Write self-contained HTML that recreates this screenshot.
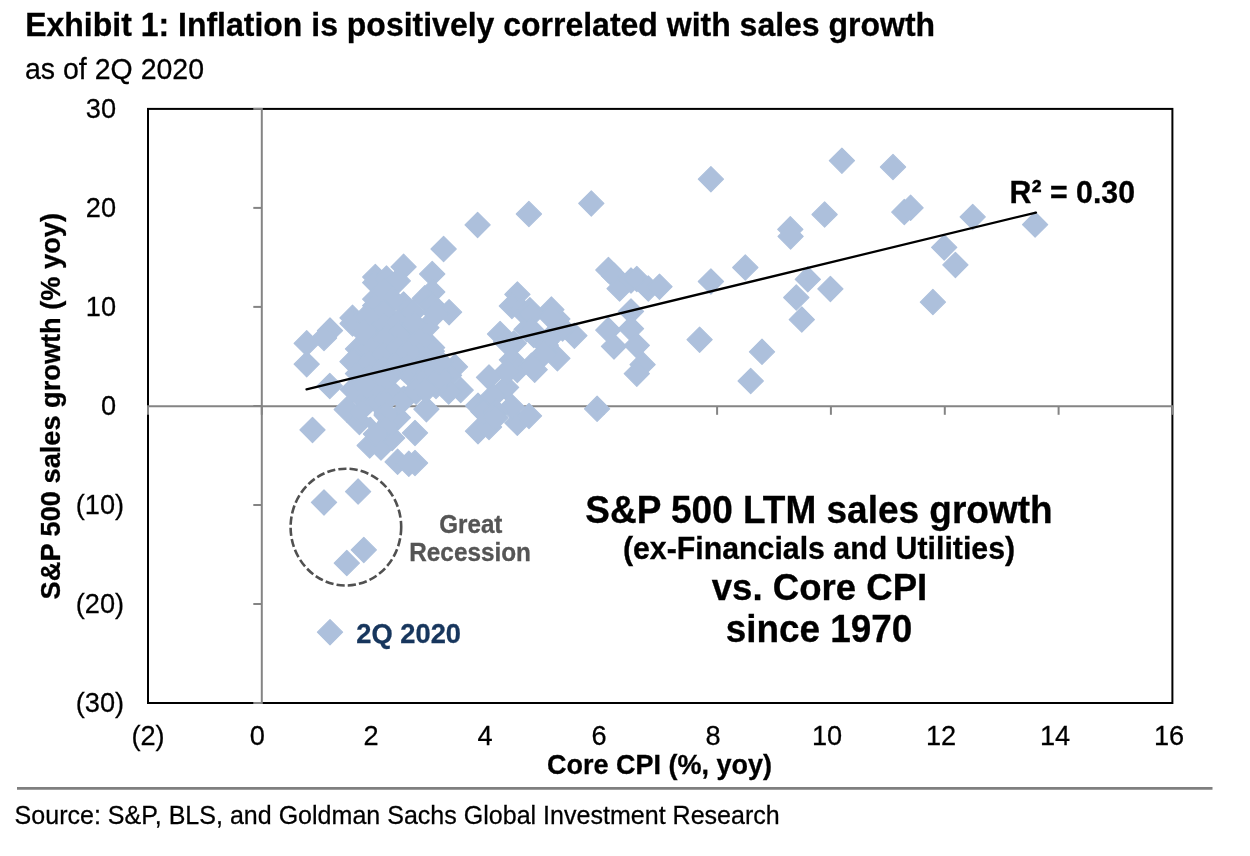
<!DOCTYPE html>
<html lang="en">
<head>
<meta charset="utf-8">
<title>Exhibit 1: Inflation is positively correlated with sales growth</title>
<style>
html,body{margin:0;padding:0;background:#fff;}
body{width:1250px;height:856px;overflow:hidden;position:relative;font-family:"Liberation Sans", Arial, Helvetica, sans-serif;}
svg{position:absolute;left:0;top:0;display:block;}
text{font-family:"Liberation Sans", Arial, Helvetica, sans-serif;}
.b{font-weight:bold;}
.d{fill:#adc0dc;stroke:#adc0dc;stroke-width:1.2;stroke-linejoin:round;}
</style>
</head>
<body>
<svg width="1250" height="856" viewBox="0 0 1250 856">
<rect x="0" y="0" width="1250" height="856" fill="#ffffff"/>
<text transform="translate(25.20 36.00) scale(1 1.035)" font-size="32" class="b" stroke="#000" stroke-width="0.3">Exhibit 1: Inflation is positively correlated with sales growth</text>
<g class="n">
<text transform="translate(25.00 78.80) scale(1 1.035)" font-size="28.5" stroke="#000" stroke-width="0.25">as of 2Q 2020</text>
</g>
<rect x="148.0" y="108.9" width="1024.4" height="594.1" fill="none" stroke="#000" stroke-width="2"/>
<g stroke="#848484" stroke-width="2" fill="none">
<line x1="261.8" y1="107.9" x2="261.8" y2="704.0"/>
<line x1="147.0" y1="406.3" x2="1173.4" y2="406.3"/>
<line x1="148.0" y1="406.3" x2="148.0" y2="414.8"/>
<line x1="261.8" y1="406.3" x2="261.8" y2="414.8"/>
<line x1="375.6" y1="406.3" x2="375.6" y2="414.8"/>
<line x1="489.5" y1="406.3" x2="489.5" y2="414.8"/>
<line x1="603.3" y1="406.3" x2="603.3" y2="414.8"/>
<line x1="717.1" y1="406.3" x2="717.1" y2="414.8"/>
<line x1="830.9" y1="406.3" x2="830.9" y2="414.8"/>
<line x1="944.8" y1="406.3" x2="944.8" y2="414.8"/>
<line x1="1058.6" y1="406.3" x2="1058.6" y2="414.8"/>
<line x1="1172.4" y1="406.3" x2="1172.4" y2="414.8"/>
<line x1="253.3" y1="703.0" x2="261.8" y2="703.0"/>
<line x1="253.3" y1="604.0" x2="261.8" y2="604.0"/>
<line x1="253.3" y1="505.0" x2="261.8" y2="505.0"/>
<line x1="253.3" y1="406.0" x2="261.8" y2="406.0"/>
<line x1="253.3" y1="306.9" x2="261.8" y2="306.9"/>
<line x1="253.3" y1="207.9" x2="261.8" y2="207.9"/>
<line x1="253.3" y1="108.9" x2="261.8" y2="108.9"/>
</g>
<g class="d">
<polygon points="841.9,148.1 854.5,160.7 841.9,173.3 829.3,160.7"/>
<polygon points="893.0,154.4 905.6,167.0 893.0,179.6 880.4,167.0"/>
<polygon points="824.6,201.9 837.2,214.5 824.6,227.1 812.0,214.5"/>
<polygon points="790.3,216.7 802.9,229.3 790.3,241.9 777.7,229.3"/>
<polygon points="790.6,223.8 803.2,236.4 790.6,249.0 778.0,236.4"/>
<polygon points="904.3,199.5 916.9,212.1 904.3,224.7 891.7,212.1"/>
<polygon points="910.6,195.2 923.2,207.8 910.6,220.4 898.0,207.8"/>
<polygon points="972.7,204.3 985.3,216.9 972.7,229.5 960.1,216.9"/>
<polygon points="1035.1,212.0 1047.7,224.6 1035.1,237.2 1022.5,224.6"/>
<polygon points="944.2,234.8 956.8,247.4 944.2,260.0 931.6,247.4"/>
<polygon points="955.4,252.3 968.0,264.9 955.4,277.5 942.8,264.9"/>
<polygon points="932.9,289.5 945.5,302.1 932.9,314.7 920.3,302.1"/>
<polygon points="807.8,266.7 820.4,279.3 807.8,291.9 795.2,279.3"/>
<polygon points="830.4,276.3 843.0,288.9 830.4,301.5 817.8,288.9"/>
<polygon points="796.3,284.9 808.9,297.5 796.3,310.1 783.7,297.5"/>
<polygon points="801.8,307.0 814.4,319.6 801.8,332.2 789.2,319.6"/>
<polygon points="710.9,166.6 723.5,179.2 710.9,191.8 698.3,179.2"/>
<polygon points="591.3,190.8 603.9,203.4 591.3,216.0 578.7,203.4"/>
<polygon points="745.3,254.9 757.9,267.5 745.3,280.1 732.7,267.5"/>
<polygon points="710.9,268.9 723.5,281.5 710.9,294.1 698.3,281.5"/>
<polygon points="608.4,257.4 621.0,270.0 608.4,282.6 595.8,270.0"/>
<polygon points="614.1,263.2 626.7,275.8 614.1,288.4 601.5,275.8"/>
<polygon points="619.6,276.0 632.2,288.6 619.6,301.2 607.0,288.6"/>
<polygon points="631.0,268.0 643.6,280.6 631.0,293.2 618.4,280.6"/>
<polygon points="636.8,266.4 649.4,279.0 636.8,291.6 624.2,279.0"/>
<polygon points="648.3,276.0 660.9,288.6 648.3,301.2 635.7,288.6"/>
<polygon points="659.5,274.1 672.1,286.7 659.5,299.3 646.9,286.7"/>
<polygon points="631.0,298.8 643.6,311.4 631.0,324.0 618.4,311.4"/>
<polygon points="699.6,327.1 712.2,339.7 699.6,352.3 687.0,339.7"/>
<polygon points="762.0,339.2 774.6,351.8 762.0,364.4 749.4,351.8"/>
<polygon points="750.7,368.4 763.3,381.0 750.7,393.6 738.1,381.0"/>
<polygon points="597.1,396.2 609.7,408.8 597.1,421.4 584.5,408.8"/>
<polygon points="608.3,317.5 620.9,330.1 608.3,342.7 595.7,330.1"/>
<polygon points="631.0,316.1 643.6,328.7 631.0,341.3 618.4,328.7"/>
<polygon points="614.0,333.8 626.6,346.4 614.0,359.0 601.4,346.4"/>
<polygon points="636.8,332.8 649.4,345.4 636.8,358.0 624.2,345.4"/>
<polygon points="642.6,352.0 655.2,364.6 642.6,377.2 630.0,364.6"/>
<polygon points="636.8,361.1 649.4,373.7 636.8,386.3 624.2,373.7"/>
<polygon points="574.4,323.1 587.0,335.7 574.4,348.3 561.8,335.7"/>
<polygon points="557.4,345.7 570.0,358.3 557.4,370.9 544.8,358.3"/>
<polygon points="557.3,306.4 569.9,319.0 557.3,331.6 544.7,319.0"/>
<polygon points="528.9,201.4 541.5,214.0 528.9,226.6 516.3,214.0"/>
<polygon points="477.6,212.3 490.2,224.9 477.6,237.5 465.0,224.9"/>
<polygon points="443.6,236.4 456.2,249.0 443.6,261.6 431.0,249.0"/>
<polygon points="432.2,261.4 444.8,274.0 432.2,286.6 419.6,274.0"/>
<polygon points="432.2,279.4 444.8,292.0 432.2,304.6 419.6,292.0"/>
<polygon points="517.4,281.8 530.0,294.4 517.4,307.0 504.8,294.4"/>
<polygon points="551.4,297.0 564.0,309.6 551.4,322.2 538.8,309.6"/>
<polygon points="449.1,299.6 461.7,312.2 449.1,324.8 436.5,312.2"/>
<polygon points="403.6,254.2 416.2,266.8 403.6,279.4 391.0,266.8"/>
<polygon points="375.3,264.4 387.9,277.0 375.3,289.6 362.7,277.0"/>
<polygon points="375.2,270.1 387.8,282.7 375.2,295.3 362.6,282.7"/>
<polygon points="386.5,266.0 399.1,278.6 386.5,291.2 373.9,278.6"/>
<polygon points="397.8,268.3 410.4,280.9 397.8,293.5 385.2,280.9"/>
<polygon points="375.2,286.6 387.8,299.2 375.2,311.8 362.6,299.2"/>
<polygon points="375.2,293.0 387.8,305.6 375.2,318.2 362.6,305.6"/>
<polygon points="352.5,305.2 365.1,317.8 352.5,330.4 339.9,317.8"/>
<polygon points="352.6,310.9 365.2,323.5 352.6,336.1 340.0,323.5"/>
<polygon points="426.4,315.1 439.0,327.7 426.4,340.3 413.8,327.7"/>
<polygon points="410.4,326.0 423.0,338.6 410.4,351.2 397.8,338.6"/>
<polygon points="330.0,318.0 342.6,330.6 330.0,343.2 317.4,330.6"/>
<polygon points="324.0,325.4 336.6,338.0 324.0,350.6 311.4,338.0"/>
<polygon points="403.6,291.8 416.2,304.4 403.6,317.0 391.0,304.4"/>
<polygon points="424.8,285.7 437.4,298.3 424.8,310.9 412.2,298.3"/>
<polygon points="432.2,292.4 444.8,305.0 432.2,317.6 419.6,305.0"/>
<polygon points="306.7,330.7 319.3,343.3 306.7,355.9 294.1,343.3"/>
<polygon points="306.7,351.6 319.3,364.2 306.7,376.8 294.1,364.2"/>
<polygon points="358.0,336.3 370.6,348.9 358.0,361.5 345.4,348.9"/>
<polygon points="352.5,349.0 365.1,361.6 352.5,374.2 339.9,361.6"/>
<polygon points="358.0,361.0 370.6,373.6 358.0,386.2 345.4,373.6"/>
<polygon points="329.8,373.4 342.4,386.0 329.8,398.6 317.2,386.0"/>
<polygon points="312.5,417.3 325.1,429.9 312.5,442.5 299.9,429.9"/>
<polygon points="346.8,396.9 359.4,409.5 346.8,422.1 334.2,409.5"/>
<polygon points="359.4,409.4 372.0,422.0 359.4,434.6 346.8,422.0"/>
<polygon points="369.7,432.9 382.3,445.5 369.7,458.1 357.1,445.5"/>
<polygon points="381.0,434.9 393.6,447.5 381.0,460.1 368.4,447.5"/>
<polygon points="392.1,425.4 404.7,438.0 392.1,450.6 379.5,438.0"/>
<polygon points="415.0,420.3 427.6,432.9 415.0,445.5 402.4,432.9"/>
<polygon points="397.9,405.0 410.5,417.6 397.9,430.2 385.3,417.6"/>
<polygon points="426.4,396.6 439.0,409.2 426.4,421.8 413.8,409.2"/>
<polygon points="397.6,449.2 410.2,461.8 397.6,474.4 385.0,461.8"/>
<polygon points="415.0,450.4 427.6,463.0 415.0,475.6 402.4,463.0"/>
<polygon points="408.8,451.2 421.4,463.8 408.8,476.4 396.2,463.8"/>
<polygon points="432.1,335.0 444.7,347.6 432.1,360.2 419.5,347.6"/>
<polygon points="431.8,338.6 444.4,351.2 431.8,363.8 419.2,351.2"/>
<polygon points="455.0,354.2 467.6,366.8 455.0,379.4 442.4,366.8"/>
<polygon points="449.0,362.7 461.6,375.3 449.0,387.9 436.4,375.3"/>
<polygon points="511.9,293.4 524.5,306.0 511.9,318.6 499.3,306.0"/>
<polygon points="500.1,321.4 512.7,334.0 500.1,346.6 487.5,334.0"/>
<polygon points="513.7,330.8 526.3,343.4 513.7,356.0 501.1,343.4"/>
<polygon points="506.0,329.2 518.6,341.8 506.0,354.4 493.4,341.8"/>
<polygon points="511.9,347.2 524.5,359.8 511.9,372.4 499.3,359.8"/>
<polygon points="489.0,364.8 501.6,377.4 489.0,390.0 476.4,377.4"/>
<polygon points="460.7,377.5 473.3,390.1 460.7,402.7 448.1,390.1"/>
<polygon points="448.7,378.9 461.3,391.5 448.7,404.1 436.1,391.5"/>
<polygon points="478.0,393.1 490.6,405.7 478.0,418.3 465.4,405.7"/>
<polygon points="478.0,418.6 490.6,431.2 478.0,443.8 465.4,431.2"/>
<polygon points="489.0,414.4 501.6,427.0 489.0,439.6 476.4,427.0"/>
<polygon points="483.4,399.1 496.0,411.7 483.4,424.3 470.8,411.7"/>
<polygon points="506.1,374.8 518.7,387.4 506.1,400.0 493.5,387.4"/>
<polygon points="517.3,410.2 529.9,422.8 517.3,435.4 504.7,422.8"/>
<polygon points="529.0,403.3 541.6,415.9 529.0,428.5 516.4,415.9"/>
<polygon points="534.7,357.1 547.3,369.7 534.7,382.3 522.1,369.7"/>
<polygon points="517.3,357.3 529.9,369.9 517.3,382.5 504.7,369.9"/>
<polygon points="511.9,394.3 524.5,406.9 511.9,419.5 499.3,406.9"/>
<polygon points="545.6,329.6 558.2,342.2 545.6,354.8 533.0,342.2"/>
<polygon points="526.6,316.7 539.2,329.3 526.6,341.9 514.0,329.3"/>
<polygon points="324.0,489.8 336.6,502.4 324.0,515.0 311.4,502.4"/>
<polygon points="358.1,479.0 370.7,491.6 358.1,504.2 345.5,491.6"/>
<polygon points="363.8,537.3 376.4,549.9 363.8,562.5 351.2,549.9"/>
<polygon points="346.8,550.5 359.4,563.1 346.8,575.7 334.2,563.1"/>
<polygon points="384.1,277.9 396.7,290.5 384.1,303.1 371.5,290.5"/>
<polygon points="392.6,287.5 405.2,300.1 392.6,312.7 380.0,300.1"/>
<polygon points="384.1,299.6 396.7,312.2 384.1,324.8 371.5,312.2"/>
<polygon points="369.7,309.2 382.3,321.8 369.7,334.4 357.1,321.8"/>
<polygon points="384.1,314.0 396.7,326.6 384.1,339.2 371.5,326.6"/>
<polygon points="398.6,309.2 411.2,321.8 398.6,334.4 386.0,321.8"/>
<polygon points="398.6,321.2 411.2,333.8 398.6,346.4 386.0,333.8"/>
<polygon points="413.0,299.6 425.6,312.2 413.0,324.8 400.4,312.2"/>
<polygon points="369.7,322.4 382.3,335.0 369.7,347.6 357.1,335.0"/>
<polygon points="384.1,327.2 396.7,339.8 384.1,352.4 371.5,339.8"/>
<polygon points="414.2,311.6 426.8,324.2 414.2,336.8 401.6,324.2"/>
<polygon points="370.0,335.4 382.6,348.0 370.0,360.6 357.4,348.0"/>
<polygon points="370.0,349.4 382.6,362.0 370.0,374.6 357.4,362.0"/>
<polygon points="370.0,363.4 382.6,376.0 370.0,388.6 357.4,376.0"/>
<polygon points="384.0,341.4 396.6,354.0 384.0,366.6 371.4,354.0"/>
<polygon points="384.0,355.4 396.6,368.0 384.0,380.6 371.4,368.0"/>
<polygon points="384.0,369.4 396.6,382.0 384.0,394.6 371.4,382.0"/>
<polygon points="398.0,335.4 410.6,348.0 398.0,360.6 385.4,348.0"/>
<polygon points="398.0,349.4 410.6,362.0 398.0,374.6 385.4,362.0"/>
<polygon points="398.0,363.4 410.6,376.0 398.0,388.6 385.4,376.0"/>
<polygon points="412.0,341.4 424.6,354.0 412.0,366.6 399.4,354.0"/>
<polygon points="412.0,355.4 424.6,368.0 412.0,380.6 399.4,368.0"/>
<polygon points="362.0,385.4 374.6,398.0 362.0,410.6 349.4,398.0"/>
<polygon points="374.0,379.4 386.6,392.0 374.0,404.6 361.4,392.0"/>
<polygon points="374.0,393.4 386.6,406.0 374.0,418.6 361.4,406.0"/>
<polygon points="386.0,387.4 398.6,400.0 386.0,412.6 373.4,400.0"/>
<polygon points="386.0,401.4 398.6,414.0 386.0,426.6 373.4,414.0"/>
<polygon points="374.0,407.4 386.6,420.0 374.0,432.6 361.4,420.0"/>
<polygon points="362.0,399.4 374.6,412.0 362.0,424.6 349.4,412.0"/>
<polygon points="386.0,415.4 398.6,428.0 386.0,440.6 373.4,428.0"/>
<polygon points="376.0,421.4 388.6,434.0 376.0,446.6 363.4,434.0"/>
<polygon points="420.0,327.4 432.6,340.0 420.0,352.6 407.4,340.0"/>
<polygon points="420.0,341.4 432.6,354.0 420.0,366.6 407.4,354.0"/>
<polygon points="432.0,349.4 444.6,362.0 432.0,374.6 419.4,362.0"/>
<polygon points="420.0,355.4 432.6,368.0 420.0,380.6 407.4,368.0"/>
<polygon points="408.0,339.4 420.6,352.0 408.0,364.6 395.4,352.0"/>
<polygon points="408.0,353.4 420.6,366.0 408.0,378.6 395.4,366.0"/>
<polygon points="436.0,359.4 448.6,372.0 436.0,384.6 423.4,372.0"/>
<polygon points="408.0,367.4 420.6,380.0 408.0,392.6 395.4,380.0"/>
<polygon points="422.0,369.4 434.6,382.0 422.0,394.6 409.4,382.0"/>
<polygon points="436.0,373.4 448.6,386.0 436.0,398.6 423.4,386.0"/>
<polygon points="440.0,365.4 452.6,378.0 440.0,390.6 427.4,378.0"/>
<polygon points="398.8,379.1 411.4,391.7 398.8,404.3 386.2,391.7"/>
<polygon points="403.6,387.2 416.2,399.8 403.6,412.4 391.0,399.8"/>
<polygon points="416.1,379.1 428.7,391.7 416.1,404.3 403.5,391.7"/>
<polygon points="425.7,377.6 438.3,390.2 425.7,402.8 413.1,390.2"/>
<polygon points="366.8,303.7 379.4,316.3 366.8,328.9 354.2,316.3"/>
<polygon points="363.9,320.0 376.5,332.6 363.9,345.2 351.3,332.6"/>
<polygon points="352.9,377.0 365.5,389.6 352.9,402.2 340.3,389.6"/>
<polygon points="435.9,300.8 448.5,313.4 435.9,326.0 423.3,313.4"/>
<polygon points="440.0,349.4 452.6,362.0 440.0,374.6 427.4,362.0"/>
<polygon points="521.4,297.5 534.0,310.1 521.4,322.7 508.8,310.1"/>
<polygon points="507.0,358.9 519.6,371.5 507.0,384.1 494.4,371.5"/>
<polygon points="529.9,297.6 542.5,310.2 529.9,322.8 517.3,310.2"/>
<polygon points="533.8,322.5 546.4,335.1 533.8,347.7 521.2,335.1"/>
<polygon points="545.8,332.6 558.4,345.2 545.8,357.8 533.2,345.2"/>
<polygon points="551.0,324.2 563.6,336.8 551.0,349.4 538.4,336.8"/>
<polygon points="544.3,340.8 556.9,353.4 544.3,366.0 531.7,353.4"/>
<polygon points="531.4,353.2 544.0,365.8 531.4,378.4 518.8,365.8"/>
<polygon points="562.6,315.8 575.2,328.4 562.6,341.0 550.0,328.4"/>
<polygon points="531.8,301.4 544.4,314.0 531.8,326.6 519.2,314.0"/>
<polygon points="551.0,304.3 563.6,316.9 551.0,329.5 538.4,316.9"/>
<polygon points="531.8,317.7 544.4,330.3 531.8,342.9 519.2,330.3"/>
<polygon points="493.2,383.4 505.8,396.0 493.2,408.6 480.6,396.0"/>
<polygon points="496.1,399.2 508.7,411.8 496.1,424.4 483.5,411.8"/>
<polygon points="495.6,405.0 508.2,417.6 495.6,430.2 483.0,417.6"/>
<polygon points="364.5,372.4 377.1,385.0 364.5,397.6 351.9,385.0"/>
<polygon points="330.0,619.6 342.6,632.2 330.0,644.8 317.4,632.2"/>
</g>
<g fill="#ffffff">
<polygon points="396,383.2 400.3,378.9 407.3,385.6 406,387 404,385.4 400.8,387.8"/>
<polygon points="367,416.8 373,411 374,412 373.5,415.4 378.1,420.6 376.4,423 370.6,416.8 368.2,417.5"/>
</g>
<line x1="306.5" y1="389.3" x2="1036" y2="212.6" stroke="#000" stroke-width="2.25" stroke-linecap="round"/>
<ellipse cx="345.9" cy="527.1" rx="55.3" ry="58.4" fill="none" stroke="#505050" stroke-width="2.6" stroke-dasharray="8.2 3.1"/>
<g class="n">
<text transform="translate(124.10 711.90) scale(1 1.035)" font-size="27.2" text-anchor="end" stroke="#000" stroke-width="0.25">(30)</text>
<text transform="translate(124.10 612.88) scale(1 1.035)" font-size="27.2" text-anchor="end" stroke="#000" stroke-width="0.25">(20)</text>
<text transform="translate(124.10 513.87) scale(1 1.035)" font-size="27.2" text-anchor="end" stroke="#000" stroke-width="0.25">(10)</text>
<text transform="translate(116.04 414.85) scale(1 1.035)" font-size="27.2" text-anchor="end" stroke="#000" stroke-width="0.25">0</text>
<text transform="translate(116.04 315.83) scale(1 1.035)" font-size="27.2" text-anchor="end" stroke="#000" stroke-width="0.25">10</text>
<text transform="translate(116.04 216.82) scale(1 1.035)" font-size="27.2" text-anchor="end" stroke="#000" stroke-width="0.25">20</text>
<text transform="translate(116.04 117.80) scale(1 1.035)" font-size="27.2" text-anchor="end" stroke="#000" stroke-width="0.25">30</text>
<text transform="translate(148.00 745.40) scale(1 1.035)" font-size="27.2" text-anchor="middle" stroke="#000" stroke-width="0.25">(2)</text>
<text transform="translate(257.29 745.40) scale(1 1.035)" font-size="27.2" text-anchor="middle" stroke="#000" stroke-width="0.25">0</text>
<text transform="translate(371.12 745.40) scale(1 1.035)" font-size="27.2" text-anchor="middle" stroke="#000" stroke-width="0.25">2</text>
<text transform="translate(484.94 745.40) scale(1 1.035)" font-size="27.2" text-anchor="middle" stroke="#000" stroke-width="0.25">4</text>
<text transform="translate(598.96 745.40) scale(1 1.035)" font-size="27.2" text-anchor="middle" stroke="#000" stroke-width="0.25">6</text>
<text transform="translate(712.98 745.40) scale(1 1.035)" font-size="27.2" text-anchor="middle" stroke="#000" stroke-width="0.25">8</text>
<text transform="translate(827.00 745.40) scale(1 1.035)" font-size="27.2" text-anchor="middle" stroke="#000" stroke-width="0.25">10</text>
<text transform="translate(941.03 745.40) scale(1 1.035)" font-size="27.2" text-anchor="middle" stroke="#000" stroke-width="0.25">12</text>
<text transform="translate(1055.05 745.40) scale(1 1.035)" font-size="27.2" text-anchor="middle" stroke="#000" stroke-width="0.25">14</text>
<text transform="translate(1169.07 745.40) scale(1 1.035)" font-size="27.2" text-anchor="middle" stroke="#000" stroke-width="0.25">16</text>
</g>
<text transform="translate(659.40 773.70) scale(1 1.035)" font-size="27" text-anchor="middle" class="b" stroke="#000" stroke-width="0.3">Core CPI (%, yoy)</text>
<text transform="translate(60.00 406.20) rotate(-90) scale(1 1.035)" font-size="27.2" text-anchor="middle" class="b" stroke="#000" stroke-width="0.3">S&amp;P 500 sales growth (% yoy)</text>
<text transform="translate(1072.30 202.60) scale(1 1.035)" font-size="30.3" text-anchor="middle" class="b" stroke="#000" stroke-width="0.3">R² = 0.30</text>
<text transform="translate(470.80 533.20) scale(1 1.035)" font-size="24.2" text-anchor="middle" class="b" fill="#555555" stroke="#555555" stroke-width="0.3">Great</text>
<text transform="translate(470.10 561.30) scale(1 1.035)" font-size="24.35" text-anchor="middle" class="b" fill="#555555" stroke="#555555" stroke-width="0.3">Recession</text>
<text transform="translate(356.30 643.10) scale(1 1.035)" font-size="27.3" class="b" fill="#17365d" stroke="#17365d" stroke-width="0.3">2Q 2020</text>
<text transform="translate(819.00 522.80) scale(1 1.035)" font-size="37" text-anchor="middle" class="b" stroke="#000" stroke-width="0.3">S&amp;P 500 LTM sales growth</text>
<text transform="translate(819.00 558.80) scale(1 1.035)" font-size="30.3" text-anchor="middle" class="b" stroke="#000" stroke-width="0.3">(ex-Financials and Utilities)</text>
<text transform="translate(819.50 600.00) scale(1 1.035)" font-size="36.6" text-anchor="middle" class="b" stroke="#000" stroke-width="0.3">vs. Core CPI</text>
<text transform="translate(819.00 642.30) scale(1 1.035)" font-size="36.9" text-anchor="middle" class="b" stroke="#000" stroke-width="0.3">since 1970</text>
<line x1="17" y1="788.4" x2="1212.5" y2="788.4" stroke="#7f7f7f" stroke-width="2.6"/>
<g class="n">
<text transform="translate(14.60 824.00) scale(1 1.035)" font-size="25.05" stroke="#000" stroke-width="0.25">Source: S&amp;P, BLS, and Goldman Sachs Global Investment Research</text>
</g>
</svg>
</body>
</html>
